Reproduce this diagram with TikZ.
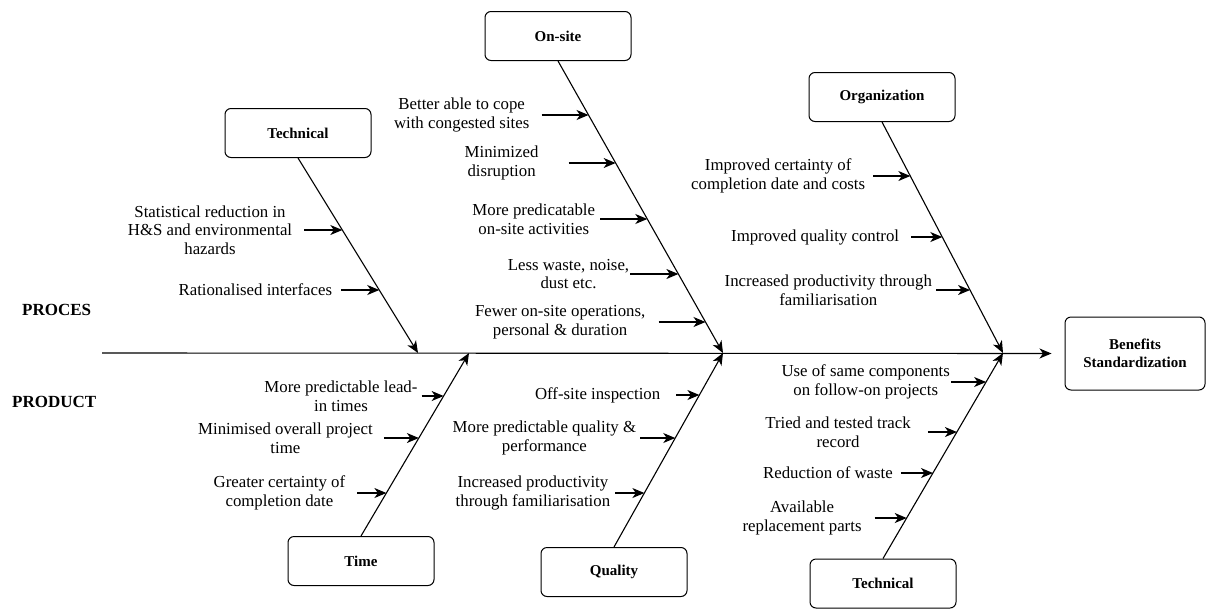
\documentclass[tikz,border=0pt]{standalone}
\usepackage{fontspec}
\setmainfont{Liberation Serif}
\usetikzlibrary{arrows.meta,calc}

\tikzset{
  catbox/.style={draw, rounded corners=6pt, line width=1pt, minimum width=146pt,
    minimum height=49pt, inner sep=0pt, font=\fontsize{15}{18}\selectfont\bfseries},
  bone/.style={line width=1.1pt, -{Stealth[length=12pt,width=10pt,inset=3.5pt]}},
  sub/.style={line width=1.1pt, -{Stealth[length=12pt,width=10pt,inset=3.5pt]}},
  lbl/.style={font=\fontsize{16.8}{18.5}\selectfont, align=center, inner sep=0pt, anchor=east},
  side/.style={font=\fontsize{17}{20}\selectfont\bfseries, anchor=west, inner sep=0pt},
}

% #1 branch start, #2 branch end, #3 height of the cause arrow,
% #4 arrow length, #5 gap after the text, #6 name, #7 text
\newcommand\cause[7]{%
  \coordinate (#6) at (intersection of #1--#2 and 0,#3--10,#3);
  \node[lbl] (#6t) at ([xshift=-#4pt-#5pt]#6) {#7};
  \draw[sub, shorten <=#5pt] (#6t.east) -- (#6);
}

\begin{document}
\begin{tikzpicture}[x=1pt, y=-1pt]
  \useasboundingbox (0,0) rectangle (1207,608);

  % effect box and spine
  \node[catbox, minimum width=140pt, minimum height=73pt, align=center] (benefits)
        at (1135,353.5) {Benefits\\Standardization};
  \coordinate (tail) at (102,353);
  \draw[bone, shorten >=13pt] (tail) -- (benefits.west);

  % side labels
  \node[side] (proces) at (22,310) {PROCES};
  \node[side] (product) at (12,402) {PRODUCT};

  % category boxes
  \node[catbox] (tA) at (298,133) {Technical};
  \node[catbox] (tB) at (558,36) {On-site};
  \node[catbox] (tC) at (882,97) {Organization};
  \node[catbox] (tD) at (361,561) {Time};
  \node[catbox] (tE) at (614,572) {Quality};
  \node[catbox] (tF) at (883,583.5) {Technical};

  % joints on the spine
  \coordinate (jA) at (418,353);
  \coordinate (jB) at (723,353);
  \coordinate (jC) at (1003,353);
  \coordinate (jD) at (469,353);
  \coordinate (jE) at (723,353);
  \coordinate (jF) at (1003,353);

  % main bones
  \draw[bone] (tA.south) -- (jA);
  \draw[bone] (tB.south) -- (jB);
  \draw[bone] (tC.south) -- (jC);
  \draw[bone] (tD.north) -- (jD);
  \draw[bone] (tE.north) -- (jE);
  \draw[bone] (tF.north) -- (jF);

  % causes
  \cause{tA.south}{jA}{230}{38}{12}{a1}{Statistical reduction in\\H\&S and environmental\\hazards}
  \cause{tA.south}{jA}{290}{38}{9}{a2}{Rationalised interfaces}

  \cause{tB.south}{jB}{115}{47}{12}{b1}{Better able to cope\\with congested sites}
  \cause{tB.south}{jB}{163}{47}{30}{b2}{Minimized\\disruption}
  \cause{tB.south}{jB}{219}{47}{5}{b3}{More predicatable\\on-site activities}
  \cause{tB.south}{jB}{274}{48}{1}{b4}{Less waste, noise,\\dust etc.}
  \cause{tB.south}{jB}{322}{47}{13}{b5}{Fewer on-site operations,\\personal \& duration}

  \cause{tC.south}{jC}{176}{37}{8}{c1}{Improved certainty of\\completion date and costs}
  \cause{tC.south}{jC}{237}{31}{12}{c2}{Improved quality control}
  \cause{tC.south}{jC}{290}{34}{4}{c3}{Increased productivity through\\familiarisation}

  \cause{tD.north}{jD}{396}{22}{4}{d1}{More predictable lead-\\in times}
  \cause{tD.north}{jD}{438}{35}{11}{d2}{Minimised overall project\\time}
  \cause{tD.north}{jD}{493}{29}{12}{d3}{Greater certainty of\\completion date}

  \cause{tE.north}{jE}{395}{23}{16}{e1}{Off-site inspection}
  \cause{tE.north}{jE}{438}{35}{4}{e2}{More predictable quality \&\\performance}
  \cause{tE.north}{jE}{493}{29}{5}{e3}{Increased productivity\\through familiarisation}

  \cause{tF.north}{jF}{382}{35}{1}{f1}{Use of same components\\on follow-on projects}
  \cause{tF.north}{jF}{432}{29}{17}{f2}{Tried and tested track\\record}
  \cause{tF.north}{jF}{473}{32}{8}{f3}{Reduction of waste}
  \cause{tF.north}{jF}{518}{32}{13}{f4}{Available\\replacement parts}
\end{tikzpicture}
\end{document}
